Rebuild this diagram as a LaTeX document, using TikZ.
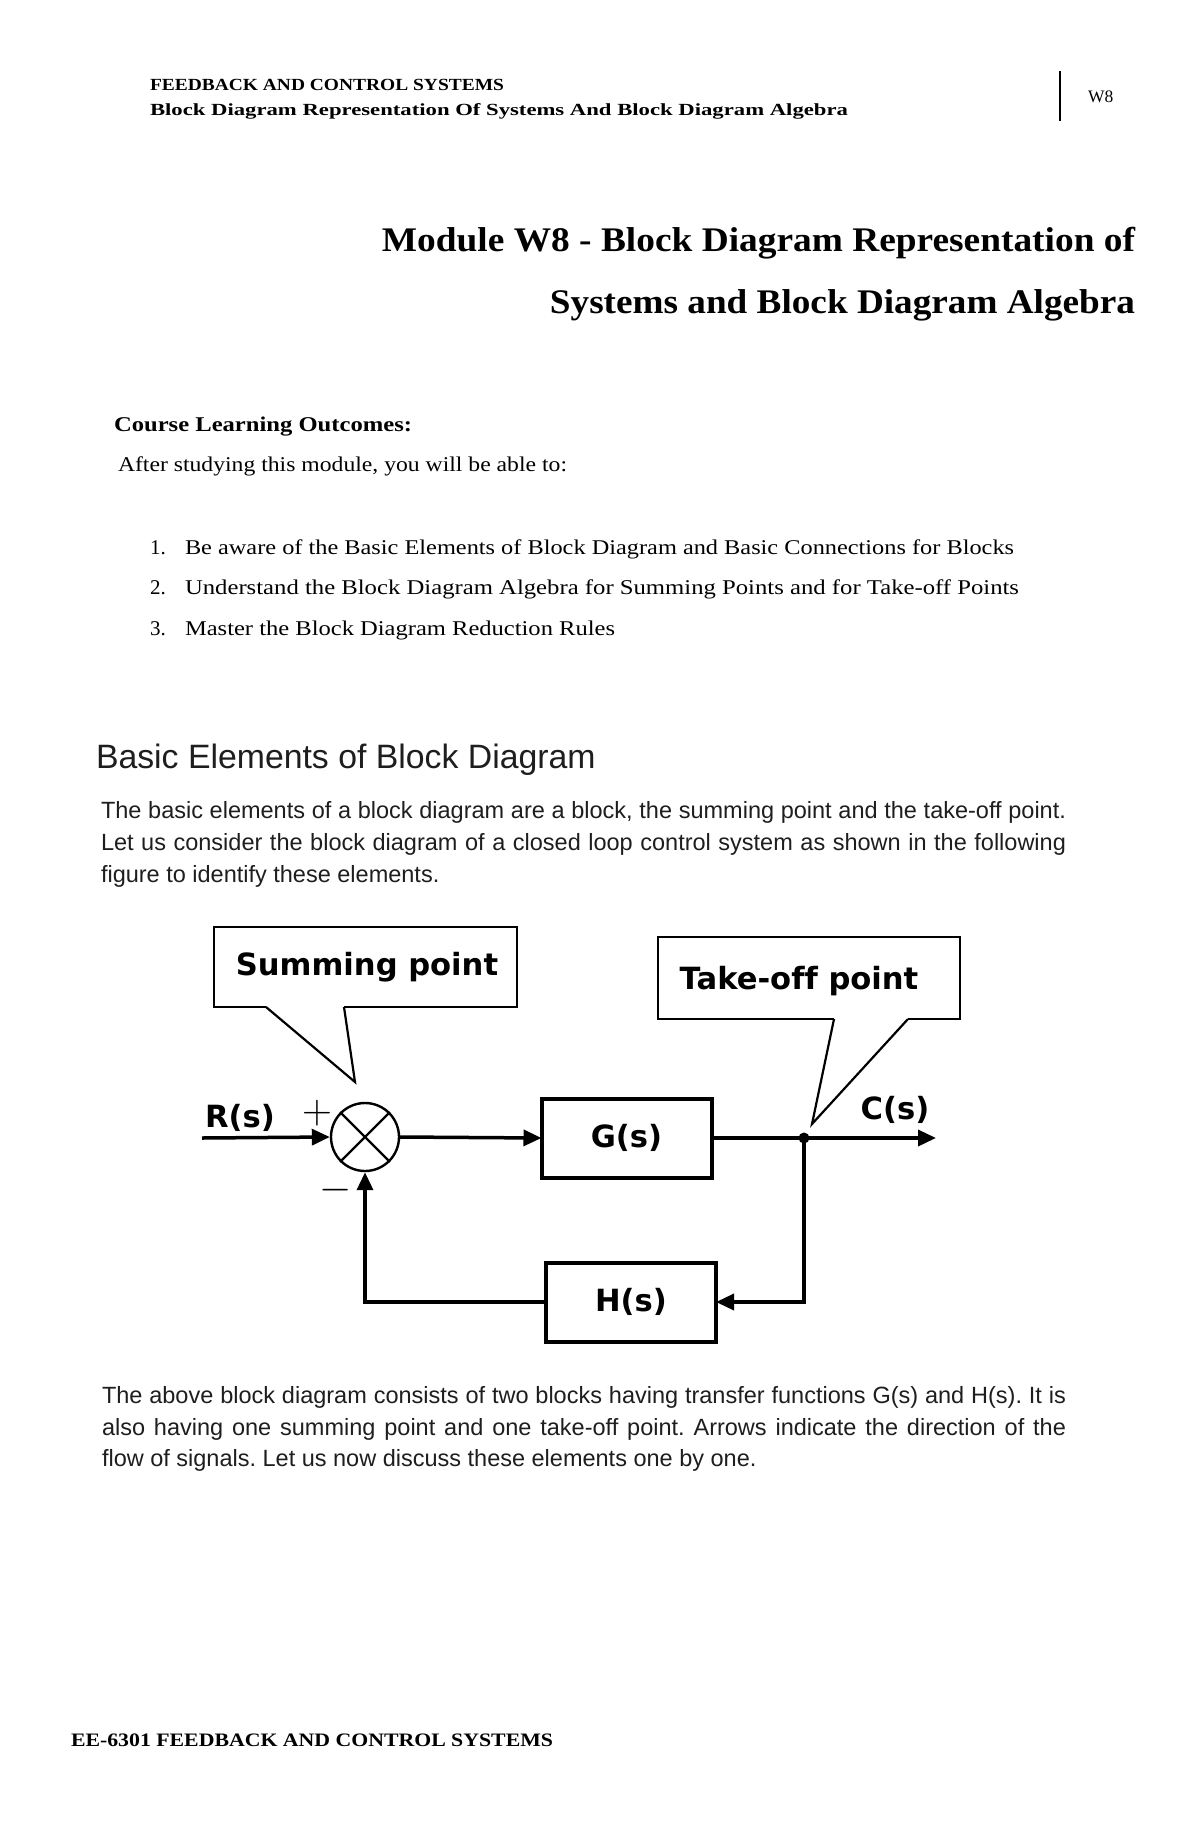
\documentclass[tikz,border=0pt]{standalone}
\usepackage{fontspec}
\usepackage{graphicx}
\setmainfont{Liberation Serif}
\newfontfamily\arialf{Liberation Sans}
\newfontfamily\verdf[Ligatures=CommonOff]{DejaVu Sans}
\usetikzlibrary{arrows.meta}
\newcommand{\fitw}[2]{\resizebox{#1}{\height}{#2}}
\definecolor{bodytxt}{RGB}{30,30,30}
\frenchspacing
\begin{document}
\begin{tikzpicture}[x=0.5pt,y=-0.5pt,
  txt/.style={inner sep=0pt,outer sep=0pt},
  hdr/.style={txt,anchor=base west,font=\bfseries\fontsize{8.5}{10}\selectfont},
  ttl/.style={txt,anchor=base east,font=\bfseries\fontsize{17.25}{20}\selectfont},
  clo/.style={txt,anchor=base west,font=\fontsize{10.5}{12}\selectfont},
  body/.style={txt,anchor=base west,text=bodytxt,font=\arialf\fontsize{11.75}{14}\selectfont},
  dtxt/.style={txt,font=\verdf\bfseries\fontsize{15.3}{18}\selectfont},
  blk/.style={dtxt,draw,line width=2pt,minimum width=85pt,minimum height=39.5pt},
  cbox/.style={line width=1.4pt,line join=miter},
  ctail/.style={line width=1.1pt,line join=miter},
  conn/.style={line width=1.75pt},
  arr/.style={conn,-{Triangle[length=9pt,width=8pt]}}
]
\useasboundingbox[fill=white] (0,0) rectangle (1200,1835);

% ---- header ----
\node[hdr] (h1) at (150,91) {\fitw{177pt}{FEEDBACK AND CONTROL SYSTEMS}};
\node[hdr] (h2) at (150,116) {\fitw{349pt}{Block Diagram Representation Of Systems And Block Diagram Algebra}};
\draw[line width=1pt] (1060,71) -- (1060,121);
\node[txt,anchor=base west,font=\fontsize{8.75}{10}\selectfont] (w8) at (1088,103) {W8};

% ---- title ----
\node[ttl] (t1) at (1135,252) {\fitw{376.5pt}{Module W8 - Block Diagram Representation of}};
\node[ttl] (t2) at (1135,313) {\fitw{292.5pt}{Systems and Block Diagram Algebra}};

% ---- outcomes ----
\node[clo,font=\bfseries\fontsize{10.5}{12}\selectfont] (clo) at (114,431) {\fitw{149pt}{Course Learning Outcomes:}};
\node[clo] (after) at (118,471) {\fitw{224.5pt}{After studying this module, you will be able to:}};
\node[clo] (n1) at (150,554) {1.};
\node[clo] (i1) at (185,554) {\fitw{414.5pt}{Be aware of the Basic Elements of Block Diagram and Basic Connections for Blocks}};
\node[clo] (n2) at (150,594) {2.};
\node[clo] (i2) at (185,594) {\fitw{417pt}{Understand the Block Diagram Algebra for Summing Points and for Take-off Points}};
\node[clo] (n3) at (150,635) {3.};
\node[clo] (i3) at (185,635) {\fitw{215pt}{Master the Block Diagram Reduction Rules}};

% ---- section ----
\node[txt,anchor=base west,text=bodytxt,font=\arialf\fontsize{16.9}{20}\selectfont] (sec) at (96,768) {Basic Elements of Block Diagram};
\node[body] (p1a) at (101,818) {\makebox[482.5pt][s]{The basic elements of a block diagram are a block, the summing point and the take-off point.}};
\node[body] (p1b) at (101,850) {\makebox[482.5pt][s]{Let us consider the block diagram of a closed loop control system as shown in the following}};
\node[body] (p1c) at (101,882) {figure to identify these elements.};

% ---- diagram ----
% callouts
\node[dtxt,anchor=base] (sumlbl) at (367,975) {Summing point};
\coordinate (sumtip) at (355,1082);
\draw[cbox] (266,1007) -- (214,1007) -- (214,927) -- (517,927) -- (517,1007) -- (344,1007);
\draw[ctail] (344,1007) -- (sumtip) -- (266,1007);

\node[dtxt,anchor=base] (tklbl) at (799,989) {Take-off point};
\coordinate (tktip) at (812,1124);
\draw[cbox] (834,1019) -- (658,1019) -- (658,937) -- (960,937) -- (960,1019) -- (908,1019);
\draw[ctail] (908,1019) -- (tktip) -- (834,1019);

% summing junction
\node[draw,circle,line width=1.2pt,minimum size=34pt,inner sep=0pt] (sum) at (365,1137) {};
\draw[line width=1.2pt] (sum.45) -- (sum.225) (sum.135) -- (sum.315);
\node[txt,font=\fontsize{22}{24}\selectfont] (plus) at (317,1113) {$+$};
\node[txt,font=\fontsize{22}{24}\selectfont] (minus) at (336,1190) {$-$};

% blocks
\node[blk] (G) at (626.5,1138) {G(s)};
\node[blk] (H) at (631,1302) {H(s)};
\node[circle,fill,inner sep=0pt,minimum size=5.5pt] (tk) at (804,1138) {};

% signals
\node[dtxt,anchor=base] (Rs) at (240,1127) {R(s)};
\node[dtxt,anchor=base] (Cs) at (895,1119) {C(s)};
\coordinate (rin) at (202,1138);
\coordinate (cout) at (936,1138);

\draw[arr] (rin) -- (sum.west);
\draw[arr] (sum.east) -- (G.west);
\draw[conn] (G.east) -- (tk.center);
\draw[arr] (tk.center) -- (cout);
\draw[arr] (tk.center) |- (H.east);
\draw[arr] (H.west) -| (sum.south);

% ---- second paragraph ----
\node[body] (p2a) at (102,1403) {\makebox[482pt][s]{The above block diagram consists of two blocks having transfer functions G(s) and H(s). It is}};
\node[body] (p2b) at (102,1435) {\makebox[482pt][s]{also having one summing point and one take-off point. Arrows indicate the direction of the}};
\node[body] (p2c) at (102,1466) {flow of signals. Let us now discuss these elements one by one.};

% ---- footer ----
\node[hdr,font=\bfseries\fontsize{9.5}{11}\selectfont] (foot) at (71,1746) {\fitw{241pt}{EE-6301 FEEDBACK AND CONTROL SYSTEMS}};
\end{tikzpicture}
\end{document}
